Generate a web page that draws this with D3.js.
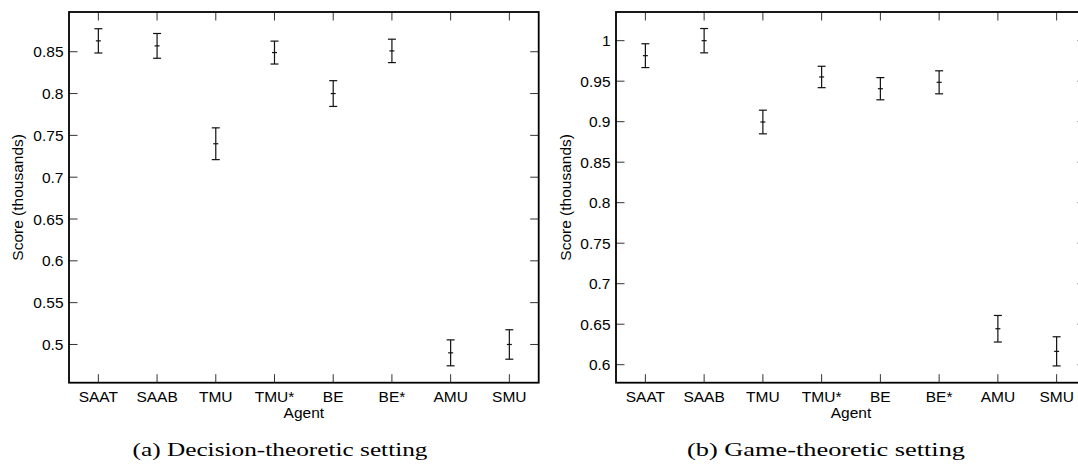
<!DOCTYPE html>
<html><head><meta charset="utf-8">
<script src="https://cdn.jsdelivr.net/npm/d3@7"></script>
<style>
html,body{margin:0;padding:0;background:#fff;}
svg{display:block;}
</style></head>
<body>
<svg id="chart" width="1078" height="465"></svg>
<script>
const agents = ["SAAT","SAAB","TMU","TMU*","BE","BE*","AMU","SMU"];
const decisionMean = [0.863,0.857,0.740,0.849,0.800,0.851,0.490,0.500];
const decisionErr  = [0.0145,0.0148,0.019,0.0137,0.0154,0.014,0.0155,0.0176];
const gameMean = [0.9815,1.000,0.8996,0.9552,0.9407,0.9486,0.6444,0.6165];
const gameErr  = [0.0147,0.015,0.0146,0.0132,0.0137,0.0142,0.0164,0.018];
const decisionTicks = [0.5,0.55,0.6,0.65,0.7,0.75,0.8,0.85];
const gameTicks = [0.6,0.65,0.7,0.75,0.8,0.85,0.9,0.95,1];
const captions = ["(a) Decision-theoretic setting","(b) Game-theoretic setting"];

const svg = d3.select("#chart");
const sans = "'Liberation Sans', Arial, Helvetica, sans-serif";

function panel(o){
  const g = svg.append("g");
  const x = d3.scalePoint().domain(agents).range([o.x0,o.x1]).padding(0.5);
  const y = d3.scaleLinear().domain(o.ydom).range([o.y1,o.y0]);
  const tl = 8.5;
  const tk = g.append("g").attr("stroke","#333").attr("stroke-width",1);
  agents.forEach(a=>{
    tk.append("line").attr("x1",x(a)).attr("x2",x(a)).attr("y1",o.y1).attr("y2",o.y1-tl);
    tk.append("line").attr("x1",x(a)).attr("x2",x(a)).attr("y1",o.y0).attr("y2",o.y0+tl);
  });
  o.ticks.forEach(t=>{
    tk.append("line").attr("x1",o.x0).attr("x2",o.x0+tl).attr("y1",y(t)).attr("y2",y(t));
    tk.append("line").attr("x1",o.x1).attr("x2",o.x1-tl).attr("y1",y(t)).attr("y2",y(t));
  });
  g.append("rect").attr("x",o.x0).attr("y",o.y0).attr("width",o.x1-o.x0).attr("height",o.y1-o.y0)
    .attr("fill","none").attr("stroke","#000").attr("stroke-width",1.8);
  g.append("g").selectAll("text").data(o.ticks).join("text")
    .attr("x",o.x0-5.5).attr("y",d=>y(d)).attr("dy","0.36em")
    .attr("text-anchor","end").attr("font-family",sans).attr("font-size",15.5)
    .text(d=>d3.format("")(+d.toFixed(2)));
  g.append("g").selectAll("text").data(agents).join("text")
    .attr("x",d=>x(d)).attr("y",o.y1+19.5).attr("text-anchor","middle")
    .attr("font-family",sans).attr("font-size",15.5).text(d=>d);
  g.append("text").attr("x",(o.x0+o.x1)/2).attr("y",o.y1+35.5).attr("text-anchor","middle")
    .attr("font-family",sans).attr("font-size",15.5).text("Agent");
  g.append("text").attr("transform",`translate(${o.ylx},${(o.y0+o.y1)/2}) rotate(-90)`)
    .attr("text-anchor","middle").attr("font-family",sans).attr("font-size",15.5).text("Score (thousands)");
  const eb = g.append("g").attr("stroke","#111").attr("stroke-width",1.2);
  agents.forEach((a,i)=>{
    const cx = x(a), m = o.mean[i], e = o.err[i];
    eb.append("line").attr("x1",cx).attr("x2",cx).attr("y1",y(m+e)).attr("y2",y(m-e));
    eb.append("line").attr("x1",cx-4).attr("x2",cx+4).attr("y1",y(m+e)).attr("y2",y(m+e));
    eb.append("line").attr("x1",cx-4).attr("x2",cx+4).attr("y1",y(m-e)).attr("y2",y(m-e));
    eb.append("line").attr("x1",cx-2.5).attr("x2",cx+2.5).attr("y1",y(m)).attr("y2",y(m));
  });
  svg.append("text").attr("x",o.capx).attr("y",456).attr("text-anchor","middle")
    .attr("font-family","'Liberation Serif', 'Times New Roman', serif").attr("font-size",19)
    .attr("textLength",o.capw).attr("lengthAdjust","spacingAndGlyphs").text(o.caption);
}

panel({x0:69,x1:538.7,y0:12,y1:382.7,ydom:[0.4543,0.8975],ticks:decisionTicks,
  mean:decisionMean,err:decisionErr,ylx:23,caption:captions[0],capx:280,capw:295});
panel({x0:616,x1:1086,y0:12,y1:382.7,ydom:[0.5778,1.0354],ticks:gameTicks,
  mean:gameMean,err:gameErr,ylx:571,caption:captions[1],capx:826,capw:278});
</script>
</body></html>
